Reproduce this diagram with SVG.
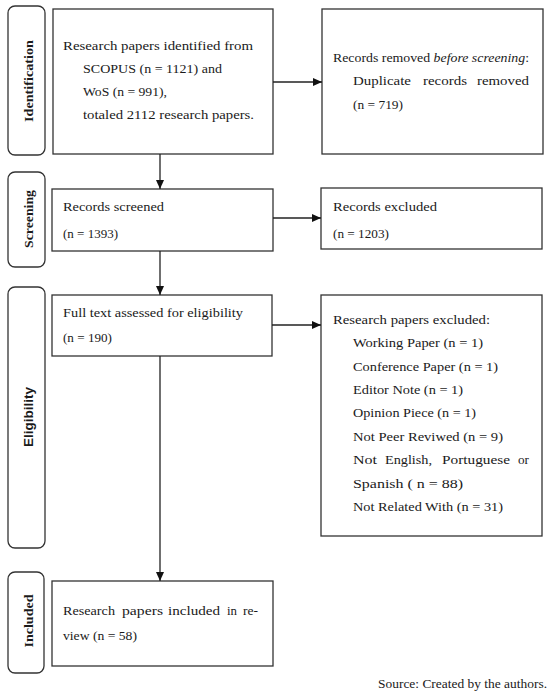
<svg xmlns="http://www.w3.org/2000/svg" width="550" height="698" viewBox="0 0 550 698">
<style>
.box{fill:#fff;stroke:#333;stroke-width:1.3}
.lab{fill:#fff;stroke:#333;stroke-width:1.3}
.t{font-family:"Liberation Serif","Times New Roman",serif;font-size:13.5px;fill:#1a1a1a}
.s{font-family:"Liberation Serif","Times New Roman",serif;font-size:13px;font-weight:bold;fill:#1a1a1a}
.ss{font-family:"Liberation Sans",Arial,sans-serif;font-size:12px;font-weight:bold;fill:#1a1a1a}
.c{stroke:#222;stroke-width:1.3;fill:none}
</style>
<defs>
<marker id="ah" viewBox="0 0 9 8" markerUnits="userSpaceOnUse" markerWidth="9" markerHeight="8" refX="9" refY="4" orient="auto">
<path d="M0,0 L9,4 L0,8 z" fill="#111"/>
</marker>
</defs>
<rect width="550" height="698" fill="#fff"/>

<g id="stage-identification">
<rect class="lab" x="8" y="6" width="37" height="149" rx="7"/>
<text class="s" transform="translate(33,81) rotate(-90)" text-anchor="middle" textLength="82" lengthAdjust="spacingAndGlyphs">Identification</text>
</g>
<g id="stage-screening">
<rect class="lab" x="8" y="172" width="37" height="95" rx="7"/>
<text class="s" transform="translate(33,219) rotate(-90)" text-anchor="middle" textLength="58" lengthAdjust="spacingAndGlyphs">Screening</text>
</g>
<g id="stage-eligibility">
<rect class="lab" x="8" y="287" width="37" height="261" rx="7"/>
<text class="ss" transform="translate(32.5,417) rotate(-90)" text-anchor="middle" textLength="60" lengthAdjust="spacingAndGlyphs">Eligibility</text>
</g>
<g id="stage-included">
<rect class="lab" x="8" y="572" width="36" height="101" rx="7"/>
<text class="s" transform="translate(33,621) rotate(-90)" text-anchor="middle" textLength="53" lengthAdjust="spacingAndGlyphs">Included</text>
</g>

<g id="node-identified">
<rect class="box" x="53" y="9" width="220" height="145"/>
<text class="t" x="63" y="50" textLength="190" lengthAdjust="spacingAndGlyphs">Research papers identified from</text>
<text class="t" x="83" y="73" textLength="139" lengthAdjust="spacingAndGlyphs">SCOPUS (n = 1121) and</text>
<text class="t" x="83" y="96" textLength="84" lengthAdjust="spacingAndGlyphs">WoS (n = 991),</text>
<text class="t" x="83" y="119" textLength="171" lengthAdjust="spacingAndGlyphs">totaled 2112 research papers.</text>
</g>
<g id="node-removed">
<rect class="box" x="322" y="9" width="221" height="145"/>
<text class="t" x="333" y="62" textLength="196" lengthAdjust="spacingAndGlyphs">Records removed <tspan font-style="italic">before screening</tspan>:</text>
<text class="t" y="85"><tspan x="353" textLength="58" lengthAdjust="spacingAndGlyphs">Duplicate</tspan><tspan x="423" textLength="44" lengthAdjust="spacingAndGlyphs">records</tspan><tspan x="477" textLength="52" lengthAdjust="spacingAndGlyphs">removed</tspan></text>
<text class="t" x="353" y="109" textLength="50" lengthAdjust="spacingAndGlyphs">(n = 719)</text>
</g>
<g id="node-screened">
<rect class="box" x="52" y="189" width="221" height="62"/>
<text class="t" x="63" y="211" textLength="101" lengthAdjust="spacingAndGlyphs">Records screened</text>
<text class="t" x="63" y="238" textLength="55" lengthAdjust="spacingAndGlyphs">(n = 1393)</text>
</g>
<g id="node-excluded">
<rect class="box" x="321" y="188" width="221" height="61"/>
<text class="t" x="333" y="211" textLength="104" lengthAdjust="spacingAndGlyphs">Records excluded</text>
<text class="t" x="333" y="238" textLength="56" lengthAdjust="spacingAndGlyphs">(n = 1203)</text>
</g>
<g id="node-fulltext">
<rect class="box" x="52" y="295" width="220" height="61"/>
<text class="t" x="63" y="317" textLength="180" lengthAdjust="spacingAndGlyphs">Full text assessed for eligibility</text>
<text class="t" x="63" y="342" textLength="49" lengthAdjust="spacingAndGlyphs">(n = 190)</text>
</g>
<g id="node-papers-excluded">
<rect class="box" x="321" y="295" width="221" height="241"/>
<text class="t" x="333" y="324" textLength="157" lengthAdjust="spacingAndGlyphs">Research papers excluded:</text>
<text class="t" x="353" y="347" textLength="130" lengthAdjust="spacingAndGlyphs">Working Paper (n = 1)</text>
<text class="t" x="353" y="371" textLength="145" lengthAdjust="spacingAndGlyphs">Conference Paper (n = 1)</text>
<text class="t" x="353" y="394" textLength="110" lengthAdjust="spacingAndGlyphs">Editor Note (n = 1)</text>
<text class="t" x="353" y="417" textLength="123" lengthAdjust="spacingAndGlyphs">Opinion Piece (n = 1)</text>
<text class="t" x="353" y="441" textLength="150" lengthAdjust="spacingAndGlyphs">Not Peer Reviwed (n = 9)</text>
<text class="t" y="464"><tspan x="353" textLength="24" lengthAdjust="spacingAndGlyphs">Not</tspan><tspan x="385" textLength="47" lengthAdjust="spacingAndGlyphs">English,</tspan><tspan x="442" textLength="68" lengthAdjust="spacingAndGlyphs">Portuguese</tspan><tspan x="518" textLength="11" lengthAdjust="spacingAndGlyphs">or</tspan></text>
<text class="t" x="353" y="488" textLength="110" lengthAdjust="spacingAndGlyphs">Spanish ( n = 88)</text>
<text class="t" x="353" y="511" textLength="150" lengthAdjust="spacingAndGlyphs">Not Related With (n = 31)</text>
</g>
<g id="node-included">
<rect class="box" x="52" y="581" width="221" height="85"/>
<text class="t" y="615"><tspan x="63" textLength="52" lengthAdjust="spacingAndGlyphs">Research</tspan><tspan x="122" textLength="41" lengthAdjust="spacingAndGlyphs">papers</tspan><tspan x="168" textLength="52" lengthAdjust="spacingAndGlyphs">included</tspan><tspan x="227" textLength="10" lengthAdjust="spacingAndGlyphs">in</tspan><tspan x="243" textLength="15" lengthAdjust="spacingAndGlyphs">re-</tspan></text>
<text class="t" x="63" y="640" textLength="74" lengthAdjust="spacingAndGlyphs">view (n = 58)</text>
</g>

<g id="connectors">
<line class="c" x1="273" y1="82" x2="322" y2="82" marker-end="url(#ah)"/>
<line class="c" x1="160" y1="154" x2="160" y2="189" marker-end="url(#ah)"/>
<line class="c" x1="273" y1="218" x2="321" y2="218" marker-end="url(#ah)"/>
<line class="c" x1="160" y1="251" x2="160" y2="295" marker-end="url(#ah)"/>
<line class="c" x1="272" y1="325" x2="321" y2="325" marker-end="url(#ah)"/>
<line class="c" x1="160" y1="356" x2="160" y2="581" marker-end="url(#ah)"/>
</g>

<text class="t" x="547" y="688" text-anchor="end" textLength="169" lengthAdjust="spacingAndGlyphs">Source: Created by the authors.</text>
</svg>
